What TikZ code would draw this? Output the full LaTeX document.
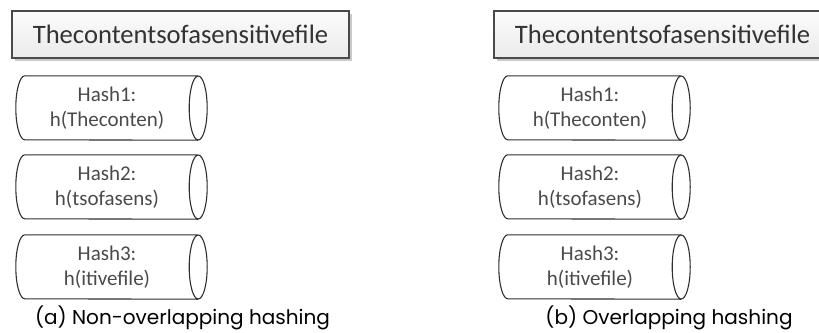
\documentclass[tikz,border=0pt]{standalone}
\usepackage{fontspec}
\setmainfont{Carlito}
\newfontfamily\capfont{Poppins}
\usetikzlibrary{calc,shadows}

\definecolor{boxline}{HTML}{4A4A4A}
\definecolor{boxtext}{HTML}{333333}
\definecolor{boxtop}{HTML}{FCFCFC}
\definecolor{boxbottom}{HTML}{EAEAEA}
\definecolor{shade}{HTML}{C9C9C9}
\definecolor{cylline}{HTML}{2E2E2E}
\definecolor{cyltext}{HTML}{4A4A4A}

% caption size chosen so that the first caption is 295pt wide
\newlength\capw
\settowidth\capw{\capfont\fontsize{10}{12}\selectfont (a) Non-overlapping hashing}
\pgfmathsetmacro\capsize{10*295/\capw}

% outline of a horizontal cylinder around a named node
\newcommand\cylout[1]{%
  \draw[cylstroke] ($(#1.north west)+(9pt,0)$) -- (#1.north east)
    ($(#1.north west)+(9pt,0)$) arc[start angle=90,end angle=270,x radius=9pt,y radius=32pt]
    -- (#1.south east)
    (#1.east) ellipse[x radius=9pt,y radius=32pt];}

\begin{document}
\begin{tikzpicture}[x=1pt,y=-1pt,
  filebox/.style={draw=boxline, line width=1.3pt, top color=boxtop, bottom color=boxbottom,
    drop shadow={shadow xshift=3pt, shadow yshift=-3pt, fill=shade, opacity=1},
    minimum width=337pt, minimum height=47pt, inner sep=0pt,
    font=\fontsize{26.6}{30}\selectfont, text=boxtext},
  hashcyl/.style={minimum width=182pt, minimum height=64pt, inner sep=0pt, align=center,
    font=\fontsize{21}{25}\selectfont, text=cyltext},
  cylstroke/.style={draw=cylline, line width=1.1pt},
  caption/.style={font=\capfont\fontsize{\capsize}{\capsize}\selectfont, text=black,
    inner sep=0pt, anchor=base}]
\useasboundingbox (0,0) rectangle (819,332);
\clip (0,0) rectangle (819,332);

% left panel: non-overlapping chunks
\node[filebox] (fa) at (180.5,34.5) {Thecontentsofasensitivefile};
\node[hashcyl] (a1) at (107,108) {Hash1:\\h(Theconten)};
\node[hashcyl] (a2) at (107,187) {Hash2:\\h(tsofasens)};
\node[hashcyl] (a3) at (107,267) {Hash3:\\h(itivefile)};
\cylout{a1}\cylout{a2}\cylout{a3}
\node[caption] (capa) at (182.5,324.5) {(a) Non-overlapping hashing};

% right panel: overlapping chunks
\node[filebox] (fb) at (662.5,34.5) {Thecontentsofasensitivefile};
\node[hashcyl] (b1) at (590,108) {Hash1:\\h(Theconten)};
\node[hashcyl] (b2) at (590,187) {Hash2:\\h(tsofasens)};
\node[hashcyl] (b3) at (590,267) {Hash3:\\h(itivefile)};
\cylout{b1}\cylout{b2}\cylout{b3}
\node[caption] (capb) at (669,324.5) {(b) Overlapping hashing};
\end{tikzpicture}
\end{document}
